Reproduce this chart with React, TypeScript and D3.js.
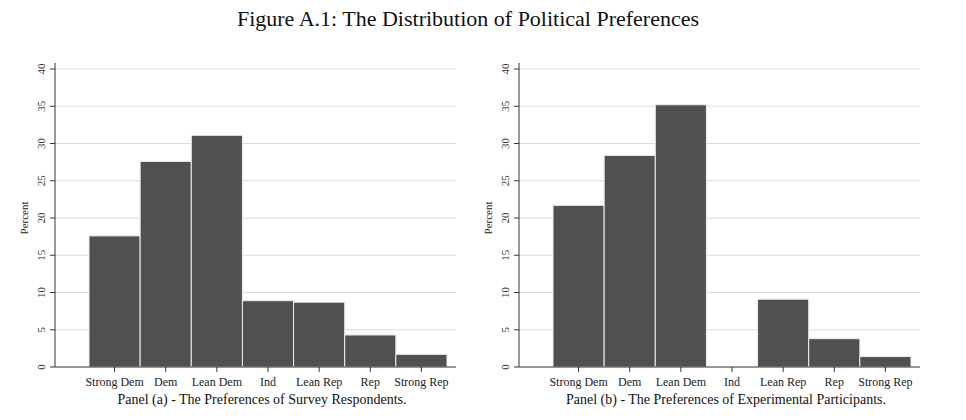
import React from "react";
import * as d3 from "d3";

const categories = ["Strong Dem", "Dem", "Lean Dem", "Ind", "Lean Rep", "Rep", "Strong Rep"];
const surveyValues = [17.6, 27.6, 31.1, 8.9, 8.7, 4.3, 1.7];
const experimentValues = [21.7, 28.4, 35.2, 0, 9.1, 3.8, 1.4];
const yTicks = [0, 5, 10, 15, 20, 25, 30, 35, 40];
const titleText = "Figure A.1: The Distribution of Political Preferences";
const captions = ["Panel (a) - The Preferences of Survey Respondents.", "Panel (b) - The Preferences of Experimental Participants."];

const font = "'Liberation Serif', 'DejaVu Serif', serif";

function Panel({ values, axisX, barL, barR, plotR, caption }: { values: number[]; axisX: number; barL: number; barR: number; plotR: number; caption: string }) {
  const y = d3.scaleLinear().domain([0, 40]).range([367, 69]);
  const x = d3.scaleBand().domain(categories).range([barL, barR]).padding(0);
  return (
    <g>
      {yTicks.map((t) => (
        <g key={t}>
          {t > 0 && <line x1={axisX} x2={plotR} y1={y(t)} y2={y(t)} stroke="#dcdcdc" strokeWidth={1} />}
          <line x1={axisX - 5} x2={axisX} y1={y(t)} y2={y(t)} stroke="#333" />
          <text transform={`translate(${axisX - 10},${y(t)}) rotate(-90)`} textAnchor="middle" fontSize={11} fill="#333" fontFamily={font}>{t}</text>
        </g>
      ))}
      <text transform={`translate(${axisX - 27},${(y(0) + y(40)) / 2}) rotate(-90)`} textAnchor="middle" fontSize={11} fill="#222" fontFamily={font}>Percent</text>
      {categories.map((c, i) => (
        <rect key={c} x={x(c)!} y={y(values[i])} width={x.bandwidth()} height={y(0) - y(values[i])} fill="#505050" stroke="#eeeeee" strokeWidth={1} />
      ))}
      <line x1={axisX} x2={axisX} y1={y(0)} y2={y(40) - 6} stroke="#333" />
      <line x1={axisX} x2={plotR} y1={y(0)} y2={y(0)} stroke="#333" />
      {categories.map((c) => (
        <g key={c}>
          <line x1={x(c)! + x.bandwidth() / 2} x2={x(c)! + x.bandwidth() / 2} y1={y(0)} y2={y(0) + 5} stroke="#333" />
          <text x={x(c)! + x.bandwidth() / 2} y={386} textAnchor="middle" fontSize={12} fill="#222" fontFamily={font}>{c}</text>
        </g>
      ))}
      <text x={(barL + barR) / 2 - 6} y={404} textAnchor="middle" fontSize={14} fill="#111" fontFamily={font}>{caption}</text>
    </g>
  );
}

export default function App() {
  return (
    <svg width={950} height={410} style={{ display: "block", position: "absolute", left: 0, top: 0, background: "#fff" }}>
      <text x={468} y={26} textAnchor="middle" fontSize={22} fill="#111" fontFamily={font}>{titleText}</text>
      <Panel values={surveyValues} axisX={55} barL={89} barR={447} plotR={456} caption={captions[0]} />
      <Panel values={experimentValues} axisX={519} barL={553} barR={911} plotR={920} caption={captions[1]} />
    </svg>
  );
}
